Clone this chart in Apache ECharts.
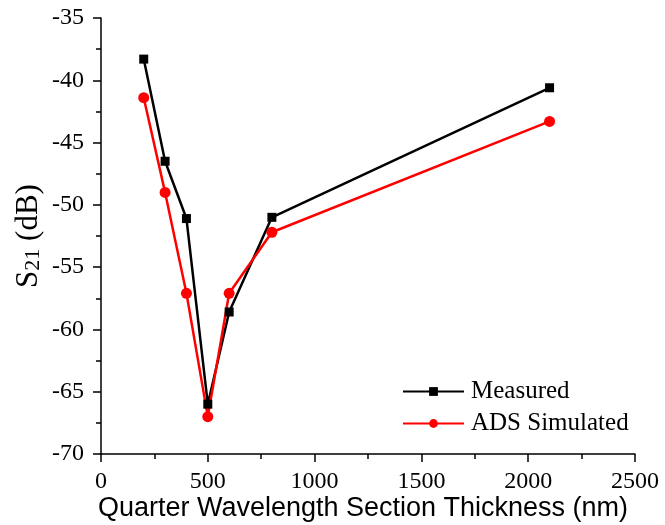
<!DOCTYPE html>
<html><head><meta charset="utf-8">
<script src="https://cdn.jsdelivr.net/npm/echarts@6/dist/echarts.min.js"></script>
<style>html,body{margin:0;padding:0;background:#fff}#c{width:665px;height:525px}</style>
</head><body><div id="c"></div>
<script>
const thickness = [200, 300, 400, 500, 600, 800, 2100];
const measured = [-38.3, -46.5, -51.1, -66.0, -58.6, -51.0, -40.6];
const simulated = [-41.4, -49.0, -57.1, -67.0, -57.1, -52.2, -43.3];
const seriesNames = ['Measured', 'ADS Simulated'];
const xTitle = 'Quarter Wavelength Section Thickness (nm)';

const pair = (xs, ys) => xs.map((x, i) => [x, ys[i]]);
const serif = '"Liberation Serif", "DejaVu Serif", serif';
const sans = '"Liberation Sans", Arial, sans-serif';
const axisCommon = {
  axisLine: {show: true, lineStyle: {color: '#000', width: 1.5}},
  axisTick: {show: true, inside: false, length: 8, lineStyle: {color: '#000', width: 1.5}},
  minorTick: {show: true, splitNumber: 2, length: 5, lineStyle: {color: '#000', width: 1.5}},
  splitLine: {show: false},
  nameMoveOverlap: false
};
const labelStyle = {color: '#000', fontFamily: serif, fontSize: 24, formatter: v => String(v)};
const chart = echarts.init(document.getElementById('c'), null, {renderer: 'canvas'});
chart.setOption({
  animation: false,
  backgroundColor: '#fff',
  grid: {left: 101, right: 30, top: 18, bottom: 71, containLabel: false, outerBoundsMode: 'none'},
  xAxis: Object.assign({
    type: 'value', min: 0, max: 2500, interval: 500,
    name: xTitle, nameLocation: 'middle', nameGap: 41,
    nameTextStyle: {color: '#000', fontFamily: sans, fontSize: 27, padding: [0, 10, 0, 0]},
    axisLabel: Object.assign({}, labelStyle, {margin: 16})
  }, axisCommon),
  yAxis: Object.assign({
    type: 'value', min: -70, max: -35, interval: 5,
    name: '{b|S}{s|21}{b| (dB)}', nameLocation: 'middle', nameGap: 57, nameRotate: 90,
    nameTextStyle: {color: '#000', fontFamily: serif, fontSize: 31,
      rich: {b: {fontFamily: serif, fontSize: 31, color: '#000', verticalAlign: 'bottom'},
             s: {fontFamily: serif, fontSize: 22, color: '#000', verticalAlign: 'bottom'}}},
    axisLabel: Object.assign({}, labelStyle, {margin: 17})
  }, axisCommon),
  legend: {
    orient: 'vertical', left: 402, top: 379, padding: 0,
    itemWidth: 61, itemHeight: 11, itemGap: 7,
    textStyle: {color: '#000', fontFamily: serif, fontSize: 25, padding: [0, 0, 0, 2]},
    data: seriesNames
  },
  series: [
    {name: seriesNames[0], type: 'line', data: pair(thickness, measured),
     symbol: 'rect', symbolSize: 9, color: '#000',
     lineStyle: {color: '#000', width: 2.5}, itemStyle: {color: '#000'}},
    {name: seriesNames[1], type: 'line', data: pair(thickness, simulated),
     symbol: 'circle', symbolSize: 11, color: '#ff0000',
     lineStyle: {color: '#ff0000', width: 2.5}, itemStyle: {color: '#ff0000'}}
  ]
});
</script></body></html>
